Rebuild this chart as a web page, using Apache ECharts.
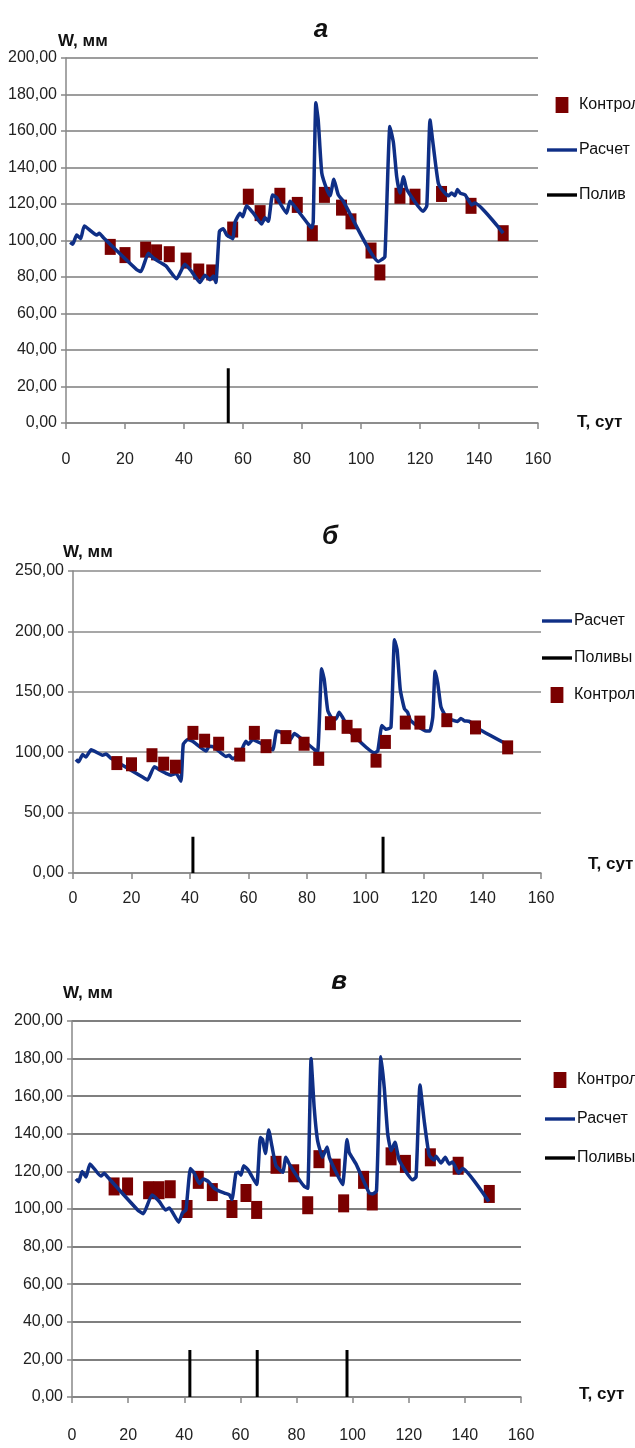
<!DOCTYPE html>
<html>
<head>
<meta charset="utf-8">
<script src="https://cdn.jsdelivr.net/npm/echarts@6/dist/echarts.min.js"></script>
<style>
html,body{margin:0;padding:0;background:#fff;}
#chart{width:635px;height:1448px;}
</style>
</head>
<body>
<div id="chart"></div>
<script>
// ---- DATA ----
const xTicks = [0, 20, 40, 60, 80, 100, 120, 140, 160];
const panelTitles = ['а', 'б', 'в'];

// Panel а
const aCalc = [[1.4,99],[2.3,98],[3.6,103],[5,101],[6.2,108],[10.4,103],[11.3,104],[12.7,101.5],[24,84],[25.4,83],[27.9,93],[29.6,90.5],[31.9,88],[33.9,86],[37.5,79],[40.3,87],[42.6,83],[45.4,77],[47.1,81],[48.8,78.5],[50,80.5],[50.8,77],[52,105],[53.3,106.5],[54.5,103],[56.5,101],[57.3,110],[59,115],[59.9,113],[61.2,119],[63.5,115],[66.3,109],[67.5,112.5],[68.6,110.5],[70,125],[71.4,123.5],[74.8,115],[75.9,121.5],[77.1,119.5],[82.1,109],[83.3,107],[83.8,110],[84.7,175.5],[85.5,166],[86.7,137],[88.4,128],[89.5,124.5],[90.8,133.5],[92.3,125],[94,121.5],[105.9,88.5],[107,89.5],[108.1,91],[109.8,162.5],[111,153.5],[112.1,135],[113.2,126],[114.4,135],[115.5,128],[121.1,116],[122.3,119],[123.4,166],[124.5,152],[126.2,131.5],[127.9,127],[129.6,124.5],[130.7,126],[131.8,124.5],[132.7,128],[133.6,126],[135.3,125],[137.5,119.5],[138.6,120.5],[148.2,104]];
const aCtrl = [[15,96.5],[20,92],[27,95],[30.7,93.5],[35,92.5],[40.7,89],[45,83],[49.4,82.5],[56.5,106],[61.8,124],[65.8,115],[72.5,124.5],[78.4,119.5],[83.5,104],[87.6,125],[93.4,118],[96.6,110.5],[103.4,94.5],[106.4,82.5],[113.2,124.5],[118.3,124],[127.3,125.5],[137.3,119],[148.2,104]];
const aIrr = [[55,30]];
const aYTicks = [0, 20, 40, 60, 80, 100, 120, 140, 160, 180, 200];

// Panel б
const bCalc = [[1,94],[1.9,92],[3.3,98],[4.4,96],[6.2,102],[10.1,97.5],[11.3,98.5],[13,95],[24.4,78.5],[25.5,77],[27.8,88],[29.5,85.5],[31.8,82.5],[33.5,81],[35.2,82.5],[36.9,76],[37.7,106.5],[39.2,110.5],[40.9,109],[45.5,101],[46.6,105],[48.3,104],[52.3,96.5],[53.4,97.5],[54.6,94.5],[56.9,98],[59.1,109],[60,106.5],[61.4,110.5],[63.7,108],[66,105],[68.3,102],[69.6,117.5],[71.1,116.5],[73.9,109],[75.7,115.5],[77.4,112.5],[81.9,103.5],[83.6,100],[85,169],[85.9,160],[87.1,134.5],[88.8,127.5],[89.9,127.5],[91,133],[92.8,126],[94.5,117.5],[103,99.5],[104.2,101],[105.6,122],[107,119],[108.7,120.5],[109.9,193],[110.8,185],[111.9,151.5],[113.3,136],[114.4,133],[115.5,126],[120.7,117.5],[122,117.5],[123,129],[123.8,167],[124.7,157],[125.8,137.5],[127.5,129.5],[129.8,126.5],[131.5,125.5],[132.6,128],[133.8,126],[135.5,125.5],[137.8,120.5],[148,107]];
const bCtrl = [[15,91],[20,90],[27,97.5],[31,90.5],[35,88],[41,116],[45,109.5],[49.8,107],[57,98],[62,116],[66,105],[72.8,112.5],[79,107],[84,94.5],[88,124],[93.7,121],[96.8,114],[103.6,93],[106.8,108.5],[113.6,124.5],[118.6,124.5],[127.8,126.5],[137.6,120.5],[148.6,104]];
const bIrr = [[41,30],[106,30]];
const bYTicks = [0, 50, 100, 150, 200, 250];

// Panel в
const cCalc = [[1.4,116],[2.4,114.5],[3.6,120],[5,117],[6.4,124],[10.3,117.5],[11.5,119],[12.7,117],[23.4,99.5],[25.4,97.5],[28.5,107.5],[31.1,104],[33.3,99.5],[34.7,100.5],[38,93],[39.4,98],[40.6,99.5],[42.2,121.5],[43.6,119],[45.4,113.5],[46.8,116],[48.7,114.5],[50.7,111],[52.5,109.5],[54.3,108.5],[56.1,107.5],[57,105],[58.4,119],[59.4,119.5],[60.2,118],[61.2,123],[62.9,120.5],[65.8,113],[67.1,138],[67.9,137],[68.9,129.5],[70.1,142],[71.3,133],[72.7,123],[75.1,119.5],[76.2,127.5],[77.4,124],[81,115.5],[82.8,112],[84,111],[85.2,180],[86.3,154],[87.5,136.5],[89.3,127.5],[90.9,133],[91.7,127.5],[94.1,119.5],[96.4,113],[98,137],[98.8,130],[101.2,124],[105.9,108.5],[107.1,108],[108.5,109.5],[110.1,181],[111.3,164],[112.5,140],[113.7,131],[115.1,135.5],[116.6,126],[121.4,115.5],[122.6,117],[124,166],[125.5,147],[127.3,128.5],[129.1,126],[129.7,128],[131.5,124.5],[133,127.5],[134.4,124],[135.6,125],[137.8,119],[139.2,121.5],[148.5,104]];
const cCtrl = [[15,112],[19.8,112],[27.3,110],[31,110],[35,110.5],[41,100],[45,115.5],[50,109],[57,100],[62,108.5],[65.8,99.5],[72.7,123.5],[79,119],[84,102],[88,126.5],[93.8,122],[96.8,103],[103.9,115.5],[107,104],[113.7,128],[118.8,124],[127.7,127.5],[137.6,123],[148.7,108]];
const cIrr = [[42,25],[66,25],[98,25]];
const cYTicks = [0, 20, 40, 60, 80, 100, 120, 140, 160, 180, 200];

// ---- STYLE / LAYOUT ----
const FONT = '"Liberation Sans",Arial,sans-serif';
const LINE_COLOR = '#0f2f86';
const CTRL_COLOR = '#7a0000';
const ICON_SQ = 'path://M0,0H12V15H0Z';
const ICON_LN = 'path://M0,0H30V3.4H0Z';

const panels = [
  { calc: aCalc, ctrl: aCtrl, irr: aIrr, yt: aYTicks, irrName: 'Полив',
    grid: {left: 66, top: 58, width: 472, height: 365}, grid_c: '#7d7d7d', lblMargin: 29,
    sym: [11, 16], lineOnTop: true,
    title: {x: 316, y: 12}, wlab: {x: 53, y: 28}, tlab: {x: 572, y: 409},
    legend: {left: 542, top: 92, gap: 29, order: ['Контроль', 'Расчет', 'Полив']} },
  { calc: bCalc, ctrl: bCtrl, irr: bIrr, yt: bYTicks, irrName: 'Поливы',
    grid: {left: 73, top: 571, width: 468, height: 302}, grid_c: '#8a8a8a', lblMargin: 18,
    sym: [11, 14], lineOnTop: false,
    title: {x: 325, y: 519}, wlab: {x: 58, y: 539}, tlab: {x: 583, y: 851},
    legend: {left: 537, top: 608, gap: 21, order: ['Расчет', 'Поливы', 'Контроль']} },
  { calc: cCalc, ctrl: cCtrl, irr: cIrr, yt: cYTicks, irrName: 'Поливы',
    grid: {left: 72, top: 1021, width: 449, height: 376}, grid_c: '#555555', lblMargin: 31,
    sym: [11, 18], lineOnTop: true,
    title: {x: 334, y: 964}, wlab: {x: 58, y: 980}, tlab: {x: 574, y: 1381},
    legend: {left: 540, top: 1067, gap: 23, order: ['Контроль', 'Расчет', 'Поливы']} }
];

const fmtY = v => v.toFixed(2).replace('.', ',');

const option = {
  backgroundColor: '#ffffff',
  animation: false,
  title: [], grid: [], xAxis: [], yAxis: [], series: [], legend: []
};

panels.forEach((p, i) => {
  option.grid.push(Object.assign({containLabel: false}, p.grid));
  const yMax = p.yt[p.yt.length - 1];
  const yStep = p.yt[1] - p.yt[0];
  option.xAxis.push({
    type: 'value', gridIndex: i, min: xTicks[0], max: xTicks[xTicks.length - 1],
    interval: xTicks[1] - xTicks[0],
    axisLine: {show: true, onZero: false, lineStyle: {color: '#888', width: 1.5}},
    axisTick: {show: true, length: 6, lineStyle: {color: '#888', width: 1.5}},
    splitLine: {show: false},
    axisLabel: {margin: p.lblMargin, fontFamily: FONT, fontSize: 16, color: '#222'}
  });
  option.yAxis.push({
    type: 'value', gridIndex: i, min: p.yt[0], max: yMax, interval: yStep,
    axisLine: {show: true, lineStyle: {color: '#888', width: 1.5}},
    axisTick: {show: true, length: 5, lineStyle: {color: '#888', width: 1.5}},
    splitLine: {show: true, lineStyle: {color: p.grid_c, width: 1.5}},
    axisLabel: {margin: 9, fontFamily: FONT, fontSize: 16, color: '#222', formatter: fmtY}
  });
  const sCalc = {
    name: 'Расчет', type: 'line', xAxisIndex: i, yAxisIndex: i,
    data: p.calc, symbol: 'none', smooth: 0.15,
    lineStyle: {color: LINE_COLOR, width: 3.5}, itemStyle: {color: LINE_COLOR},
    z: p.lineOnTop ? 4 : 2
  };
  const sCtrl = {
    name: 'Контроль', type: 'scatter', xAxisIndex: i, yAxisIndex: i,
    data: p.ctrl, symbol: 'rect', symbolSize: p.sym,
    itemStyle: {color: CTRL_COLOR, opacity: 1},
    z: p.lineOnTop ? 2 : 4
  };
  const sIrr = {
    name: p.irrName, type: 'bar', xAxisIndex: i, yAxisIndex: i,
    data: p.irr, barWidth: 3, itemStyle: {color: '#000'}, z: 3
  };
  option.series.push(sCtrl, sCalc, sIrr);

  option.legend.push({
    orient: 'vertical', left: p.legend.left, top: p.legend.top,
    itemWidth: 30, itemHeight: 16, itemGap: p.legend.gap,
    symbolKeepAspect: true, selectedMode: false,
    textStyle: {fontFamily: FONT, fontSize: 16, color: '#111', padding: [0, 0, 0, -3]},
    data: p.legend.order.map(n => ({
      name: n,
      icon: n === 'Контроль' ? ICON_SQ : ICON_LN,
      itemStyle: {color: n === 'Контроль' ? CTRL_COLOR : (n === 'Расчет' ? LINE_COLOR : '#000')}
    }))
  });

  option.title.push(
    {text: panelTitles[i], left: p.title.x, top: p.title.y, textAlign: 'center',
     textStyle: {fontFamily: FONT, fontSize: 26, fontWeight: 'bold', fontStyle: 'italic', color: '#111'}},
    {text: 'W, мм', left: p.wlab.x, top: p.wlab.y,
     textStyle: {fontFamily: FONT, fontSize: 17, fontWeight: 'bold', color: '#111'}},
    {text: 'T, сут', left: p.tlab.x, top: p.tlab.y,
     textStyle: {fontFamily: FONT, fontSize: 17, fontWeight: 'bold', color: '#111'}}
  );
});

const chart = echarts.init(document.getElementById('chart'), null, {renderer: 'canvas'});
chart.setOption(option);
</script>
</body>
</html>
